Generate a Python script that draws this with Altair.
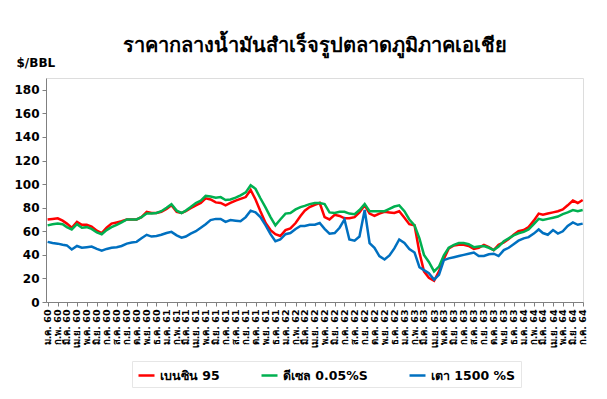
import json
import altair as alt
import pandas as pd

TITLE = "ราคากลางน้ำมันสำเร็จรูปตลาดภูมิภาคเอเชีย"
Y_TITLE = "$/BBL"
SERIES = ["เบนซิน 95", "ดีเซล 0.05%S", "เตา 1500 %S"]
COLORS = ["#FF0000", "#00B050", "#0070C0"]
THAI_MONTHS = ["ม.ค.", "ก.พ.", "มี.ค.", "เม.ย.", "พ.ค.", "มิ.ย.",
               "ก.ค.", "ส.ค.", "ก.ย.", "ต.ค.", "พ.ย.", "ธ.ค."]
Y_TICKS = [0, 20, 40, 60, 80, 100, 120, 140, 160, 180]

# half-monthly readings, Jan 2017 .. Jul 2021 (1st and 16th of each month)
benzin95 = [
    70, 70.5, 71, 69, 66.5, 63, 68, 65.5, 65.5, 64, 60.5, 58.5, 63, 66.5, 67.5, 68.5,
    70, 70, 70, 72, 76.5, 75.5, 75.5, 76.5, 79, 82, 76.5, 75.5, 77, 79.5, 82, 84,
    88, 87, 84.5, 84, 82, 84, 86, 87.5, 89, 95, 87, 77, 67, 61, 57.5, 56,
    61, 62.5, 67, 73, 77.5, 80.5, 82.5, 84, 72, 70, 74, 73, 71, 71, 72, 76,
    82, 75, 73, 75, 76.5, 76, 75.5, 77, 71.5, 66, 65, 42, 26, 20.5, 18, 26,
    36.5, 45.5, 48, 48.5, 48.5, 47.5, 45, 46, 48.5, 46.5, 44, 48.5, 50.5, 53.5, 57, 60,
    61, 63.5, 69, 75, 74, 75, 76, 77, 78.5, 82, 86, 84, 86.5,
]
diesel = [
    65, 66, 66.5, 66, 63.5, 61.5, 66, 63, 63.5, 62, 59, 57.5, 61, 63.5, 65.5, 67.5,
    70, 70, 70, 72, 75, 75, 75.5, 77, 80, 83, 77.5, 75.5, 77.5, 80.5, 84, 86,
    90, 89.5, 88.5, 89, 86.5, 87, 88.5, 90.5, 93, 99, 96, 88, 80, 72, 65, 70,
    75, 75.5, 78.5, 80.5, 81.5, 83, 84, 84, 83, 76, 75.5, 76.5, 76.5, 75, 74.5, 78,
    83, 77, 77, 77, 77, 79, 81, 82, 77, 70, 65, 54, 40, 34, 26, 30,
    39.5, 46, 48.5, 50, 50, 49, 46.5, 47, 47.5, 46, 44, 47, 51.5, 54, 56.5, 58.3,
    59.5, 61.5, 66, 70.5, 69.6, 70.5, 71.5, 72.5, 74.5, 76, 78, 77, 78,
]
fueloil = [
    51, 50, 49.5, 48.5, 48, 44.5, 47.5, 46, 46.5, 47, 45, 43.5, 45, 46, 46.5, 47.5,
    49.5, 50.5, 51, 54, 57, 55.5, 56, 57, 58.5, 59.5, 56.5, 54.5, 55.5, 58, 60, 63,
    66, 69.5, 70.5, 70.5, 68, 69.5, 69, 68.5, 72, 77.5, 76, 72, 65, 57.5, 51.5, 53,
    57.5, 58.5, 62, 64.5, 64.5, 65.5, 65.5, 67, 62, 58, 58.5, 63, 70, 53, 52, 55.5,
    78, 50, 46, 39, 36, 39.5, 45.5, 53, 50, 45, 42, 29.5, 27, 24.5, 19, 23,
    35.5, 37, 38, 39, 40, 41, 42, 39, 39, 40.5, 41, 39, 44, 46, 49, 52,
    54, 55, 58, 61.5, 58.5, 57, 61, 58, 60, 64.5, 67.5, 65.5, 66.5,
]

dates = []
for k in range(55):
    y, m = 2017 + k // 12, k % 12 + 1
    dates.append(pd.Timestamp(y, m, 1))
    dates.append(pd.Timestamp(y, m, 16))
dates = dates[:len(benzin95)]

frames = []
for i, (name, vals) in enumerate(zip(SERIES, [benzin95, diesel, fueloil])):
    frames.append(pd.DataFrame({"date": dates, "value": vals, "series": name, "order": i}))
df = pd.concat(frames, ignore_index=True)

FONT = "Tahoma, 'DejaVu Sans', 'Noto Sans', sans-serif"

label_expr = (json.dumps(THAI_MONTHS, ensure_ascii=False)
              + "[month(datum.value)] + ' ' + (year(datum.value) - 1957)")

x_enc = alt.X(
    "date:T",
    scale=alt.Scale(domain=[alt.DateTime(year=2016, month=12, date=27),
                            alt.DateTime(year=2021, month=7, date=2)]),
    axis=alt.Axis(
        title=None, grid=False,
        tickCount={"interval": "month", "step": 1},
        labelExpr=label_expr, labelAngle=-90, labelAlign="right", labelBaseline="middle",
        labelOverlap=False, labelFlush=False, labelFont=FONT, labelFontSize=9.5,
        labelFontWeight="bold", labelColor="#000000", labelPadding=3,
        tickSize=4, tickColor="#808080", domainColor="#808080",
    ),
)
y_enc = alt.Y(
    "value:Q",
    scale=alt.Scale(domain=[0, 190], nice=False),
    axis=alt.Axis(
        title=Y_TITLE, titleAngle=0, titleAlign="left", titleBaseline="middle",
        titleX=-30, titleY=-16, titleFont=FONT, titleFontSize=12, titleFontWeight="bold",
        titleColor="#000000",
        values=Y_TICKS, grid=False, labelFont=FONT, labelFontSize=12,
        labelFontWeight="bold", labelColor="#000000", labelPadding=3,
        tickSize=4, tickColor="#808080", domainColor="#808080",
    ),
)

chart = alt.Chart(df).mark_line(strokeWidth=2.5, interpolate="linear").encode(
    x=x_enc,
    y=y_enc,
    color=alt.Color(
        "series:N",
        scale=alt.Scale(domain=SERIES, range=COLORS),
        legend=alt.Legend(
            title=None, orient="none", direction="horizontal", legendX=86, legendY=283,
            symbolType="stroke", symbolSize=256, symbolStrokeWidth=2.5,
            labelFont=FONT, labelFontSize=12.5, labelFontWeight="bold", labelColor="#000000",
            columnPadding=36, padding=5, strokeColor="#e6e6e6", labelLimit=300,
        ),
    ),
    order="order:Q",
).properties(
    width=537, height=224,
    title=alt.TitleParams(TITLE, font=FONT, fontSize=20, fontWeight="bold",
                          color="#000000", anchor="middle", offset=0),
    autosize=alt.AutoSizeParams(type="none"),
    padding={"left": 38, "top": 70, "right": 16, "bottom": 89},
).configure_view(stroke="#808080", strokeWidth=1).configure(background="#ffffff")

chart.save("out.html", embed_options={"renderer": "svg", "actions": False})
